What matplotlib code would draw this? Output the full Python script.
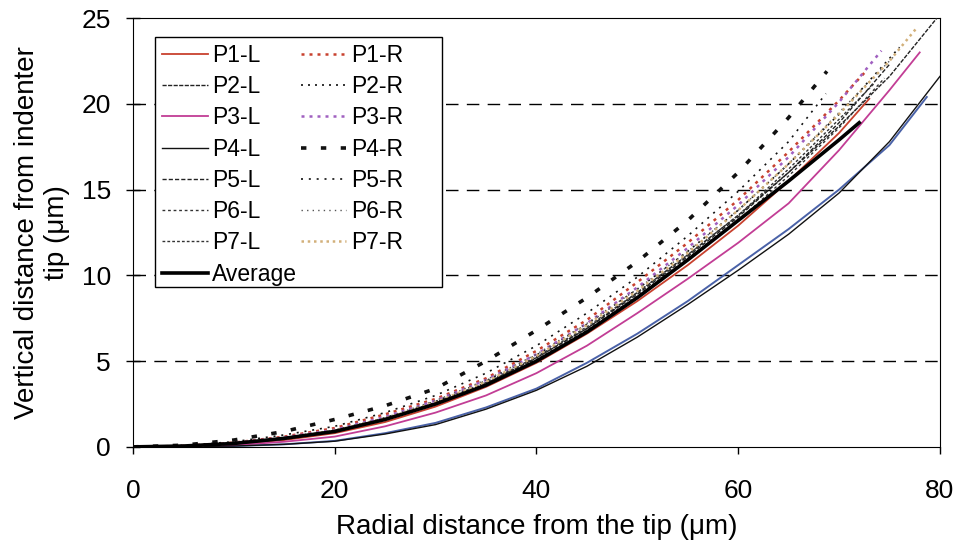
import matplotlib
matplotlib.use("Agg")
import matplotlib.pyplot as plt
from matplotlib.patches import Rectangle

plt.rcParams['font.family'] = ['Liberation Sans', 'DejaVu Sans']

# Shared x grid (um) for readings; each series also has its own end point
x_grid = [0, 5, 10, 15, 20, 25, 30, 35, 40, 45, 50, 55, 60, 65, 70]

series_names = ["P1-L", "P2-L", "P3-L", "P4-L", "P5-L", "P6-L", "P7-L",
                "Average",
                "P1-R", "P2-R", "P3-R", "P4-R", "P5-R", "P6-R", "P7-R"]

p1_l = [0, 0.03, 0.15, 0.4, 0.8, 1.45, 2.35, 3.5, 4.9, 6.6, 8.5, 10.6, 12.9, 15.5, 18.3]
p2_l = [0, 0.04, 0.18, 0.45, 0.9, 1.6, 2.5, 3.7, 5.2, 6.9, 9.0, 11.2, 13.5, 16.0, 18.7]
p3_l = [0, 0.02, 0.1, 0.3, 0.6, 1.2, 2.0, 3.0, 4.3, 5.9, 7.8, 9.8, 11.9, 14.2, 17.3]
p4_l = [0, 0.01, 0.05, 0.15, 0.33, 0.75, 1.3, 2.2, 3.3, 4.7, 6.4, 8.3, 10.3, 12.4, 14.8]
p5_l = [0, 0.04, 0.18, 0.48, 0.92, 1.6, 2.55, 3.7, 5.2, 6.9, 8.9, 11.1, 13.4, 16.0, 18.9]
p6_l = [0, 0.04, 0.18, 0.46, 0.9, 1.58, 2.5, 3.65, 5.1, 6.8, 8.8, 11.0, 13.2, 15.8, 18.6]
p7_l = [0, 0.05, 0.2, 0.5, 0.95, 1.65, 2.6, 3.75, 5.25, 7.0, 9.0, 11.2, 13.5, 16.2, 19.1]
average = [0, 0.05, 0.2, 0.5, 0.9, 1.6, 2.5, 3.6, 5.0, 6.7, 8.7, 10.9, 13.2, 15.5, 17.9]
p1_r = [0, 0.06, 0.25, 0.6, 1.1, 1.9, 2.8, 4.0, 5.6, 7.4, 9.6, 11.9, 14.4, 17.2, 20.2]
p2_r = [0, 0.05, 0.2, 0.5, 0.95, 1.7, 2.65, 3.85, 5.35, 7.15, 9.2, 11.4, 13.8, 16.5, 19.4]
p3_r = [0, 0.05, 0.22, 0.55, 1.0, 1.75, 2.7, 3.9, 5.4, 7.2, 9.3, 11.6, 14.1, 16.9, 20.1]
p4_r = [0, 0.1, 0.4, 0.9, 1.6, 2.4, 3.4, 5.0, 6.8, 8.7, 10.8, 13.2, 16.0, 19.2]
p5_r = [0, 0.08, 0.3, 0.7, 1.2, 2.0, 3.0, 4.3, 5.9, 7.8, 9.9, 12.3, 14.9, 17.8]
p6_r = [0, 0.05, 0.22, 0.55, 1.0, 1.7, 2.7, 3.9, 5.4, 7.2, 9.2, 11.4, 13.8, 16.5, 19.5]
p7_r = [0, 0.05, 0.2, 0.5, 0.95, 1.65, 2.6, 3.8, 5.3, 7.1, 9.1, 11.3, 13.8, 16.5, 19.4]
extra_trace = [0, 0.01, 0.05, 0.15, 0.35, 0.8, 1.4, 2.3, 3.4, 4.9, 6.6, 8.5, 10.6, 12.7, 15.0]

# end points (x, y) and optional extra intermediate points beyond 70
tail_x = {"P1-L": [73.0], "P2-L": [75.0, 79.7], "P3-L": [75.0, 78.0],
          "P4-L": [75.0, 80.0], "P5-L": [75.0], "P6-L": [74.5], "P7-L": [73.5],
          "Average": [72.0], "P1-R": [72.5], "P2-R": [76.0], "P3-R": [74.2],
          "P4-R": [68.8], "P5-R": [68.7], "P6-R": [75.5], "P7-R": [75.0, 77.8],
          "extra": [75.0, 78.7]}
tail_y = {"P1-L": [20.3], "P2-L": [21.6, 25.0], "P3-L": [20.8, 23.0],
          "P4-L": [17.8, 21.6], "P5-L": [22.3], "P6-L": [21.5], "P7-L": [21.2],
          "Average": [18.9], "P1-R": [21.8], "P2-R": [23.3], "P3-R": [23.1],
          "P4-R": [21.9], "P5-R": [20.6], "P6-R": [22.8], "P7-R": [22.5, 24.5],
          "extra": [17.6, 20.4]}

values = {"P1-L": p1_l, "P2-L": p2_l, "P3-L": p3_l, "P4-L": p4_l, "P5-L": p5_l,
          "P6-L": p6_l, "P7-L": p7_l, "Average": average, "P1-R": p1_r,
          "P2-R": p2_r, "P3-R": p3_r, "P4-R": p4_r, "P5-R": p5_r, "P6-R": p6_r,
          "P7-R": p7_r, "extra": extra_trace}

styles = {
    "P1-L": dict(color="#c8412e", lw=1.3, ls="-"),
    "P2-L": dict(color="#222222", lw=1.0, ls=(0, (3, 1))),
    "P3-L": dict(color="#c23d95", lw=1.3, ls="-"),
    "P4-L": dict(color="#111111", lw=1.0, ls="-"),
    "P5-L": dict(color="#222222", lw=1.0, ls=(0, (3, 1.5))),
    "P6-L": dict(color="#333333", lw=1.0, ls=(0, (2, 2))),
    "P7-L": dict(color="#333333", lw=1.0, ls=(0, (2, 1.5))),
    "Average": dict(color="#000000", lw=2.6, ls="-"),
    "P1-R": dict(color="#c8412e", lw=1.8, ls=(0, (1.2, 2))),
    "P2-R": dict(color="#111111", lw=1.2, ls=(0, (1.2, 3))),
    "P3-R": dict(color="#a060c0", lw=1.8, ls=(0, (1.2, 2))),
    "P4-R": dict(color="#111111", lw=2.6, ls=(0, (1.5, 4))),
    "P5-R": dict(color="#111111", lw=1.2, ls=(0, (1.2, 3.5))),
    "P6-R": dict(color="#555555", lw=1.0, ls=(0, (1, 3))),
    "P7-R": dict(color="#d2b07a", lw=1.8, ls=(0, (1, 1.5))),
    "extra": dict(color="#4a62a8", lw=1.4, ls="-"),
}

fig = plt.figure(figsize=(9.64, 5.49), dpi=100)
ax = fig.add_axes([0.138, 0.186, 0.837, 0.781])

for y in [5, 10, 15, 20]:
    ax.axhline(y, color="black", lw=1.0, ls=(0, (9, 6)), zorder=0)

ax.plot(x_grid + tail_x["extra"], values["extra"] + tail_y["extra"],
        **styles["extra"], zorder=2)

handles = {}
for name in series_names:
    v = values[name]
    xs = x_grid[:len(v)] + tail_x[name]
    ys = v + tail_y[name]
    h, = ax.plot(xs, ys, label=name, zorder=4 if name == "Average" else 3,
                 **styles[name])
    handles[name] = h

ax.set_xlim(0, 80)
ax.set_ylim(0, 25)
ax.set_xticks([0, 20, 40, 60, 80])
ax.set_yticks([0, 5, 10, 15, 20, 25])
ax.tick_params(axis="y", direction="inout", length=10, width=1, labelsize=19,
               pad=11)
ax.tick_params(axis="x", direction="out", length=5, width=1, labelsize=19,
               pad=18)
ax.spines["top"].set_linestyle((0, (2, 1)))
ax.spines["top"].set_linewidth(0.8)
ax.spines["right"].set_linewidth(0.8)

ax.set_xlabel("Radial distance from the tip (\u03bcm)", fontsize=20, labelpad=8)
ax.set_ylabel("Vertical distance from indenter\ntip (\u03bcm)", fontsize=20,
              labelpad=8)

# legend frame (wider than the entries, as in the original)
frame = Rectangle((0.0273, 0.373), 0.356, 0.583, transform=ax.transAxes,
                  facecolor="white", edgecolor="black", lw=1.0, zorder=5)
ax.add_patch(frame)

leg = ax.legend([handles[n] for n in series_names], series_names, ncol=2,
                loc="upper left", bbox_to_anchor=(0.027, 0.956), fontsize=16.5,
                frameon=False, handlelength=2.0, labelspacing=0.36,
                columnspacing=0.15, borderpad=0.3, handletextpad=0.2,
                borderaxespad=0)
leg.set_zorder(6)

fig.savefig("out.png", dpi=100)
